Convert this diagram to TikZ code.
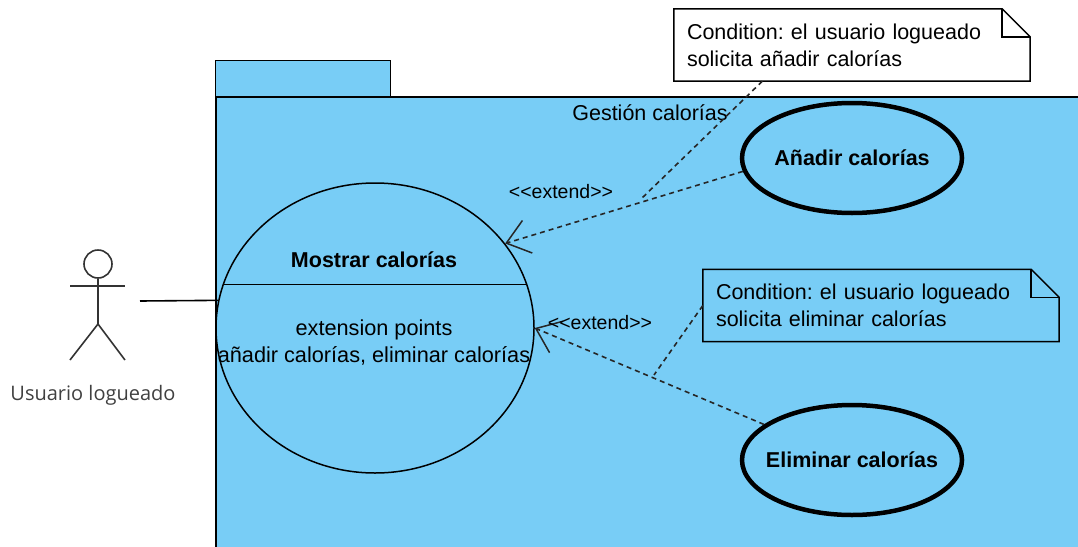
\documentclass[tikz,border=0pt]{standalone}
\usepackage{fontspec}
\setmainfont{Liberation Sans}
\newfontfamily\actorfont{Open Sans}
\usetikzlibrary{arrows.meta,calc,shapes.geometric}
\definecolor{pkgblue}{HTML}{78CDF6}
\tikzset{
  pkgbox/.style={draw=black,fill=pkgblue,line width=1.5pt,minimum width=#1,inner sep=0pt},
  caseoval/.style={draw=black,ellipse,inner xsep=-40pt,inner ysep=0pt,minimum width=220pt,minimum height=110pt,line width=4.5pt,font=\fontsize{21.5}{23}\selectfont\bfseries},
  notebox/.style={inner sep=0pt,minimum width=356pt,minimum height=72pt,text width=330pt,align=left,font=\fontsize{21.5}{27}\selectfont},
  extendline/.style={draw=black!85,dashed,dash pattern=on 5pt off 4pt,line width=1.6pt},
  openarrow/.style={-{Straight Barb[length=22pt,width=34pt,line width=1.5pt]}},
  lbl/.style={inner sep=0pt,font=\fontsize{#1}{#1}\selectfont},
}
\newcommand{\notefold}[1]{
  \draw[line width=1.5pt] (#1.south west) -- (#1.north west) -- ($(#1.north east)+(-28,0)$) -- ($(#1.north east)+(0,28)$) -- (#1.south east) -- cycle;
  \draw[line width=1.5pt] ($(#1.north east)+(-28,0)$) -- ($(#1.north east)+(-28,28)$) -- ($(#1.north east)+(0,28)$);
}
\begin{document}
\frenchspacing
\begin{tikzpicture}[x=1pt,y=-1pt]
\clip (0,0) rectangle (1078,546);
\node[pkgbox=175pt,minimum height=37pt] (P_tab) at (303,79) {};
\node[pkgbox=880pt,minimum height=480pt] (P_pkg) at (656,337) {};
\node[lbl=21.5] (P_title) at (650,113) {Gestión calorías};
\node[draw=black,ellipse,inner sep=0pt,minimum width=318pt,minimum height=290pt,line width=1.5pt] (P_mostrar) at (375,328) {};
\draw[line width=1.5pt] (P_mostrar.164) -- (P_mostrar.16);
\node[inner sep=0pt,font=\fontsize{21.5}{21.5}\selectfont\bfseries] (P_mostrar_name) at (374,260) {Mostrar calorías};
\node[inner sep=0pt,align=center,font=\fontsize{21.7}{27}\selectfont] (P_points) at (374,343) {extension points\\añadir calorías, eliminar calorías};
\node[caseoval] (P_anadir) at (852,158) {Añadir calorías};
\node[caseoval] (P_eliminar) at (852,460) {Eliminar calorías};
\node[notebox,fill=white] (P_note_0) at (852,45) {Condition: el usuario logueado\\solicita añadir calorías};
\notefold{P_note_0}
\node[notebox] (P_note_1) at (881,305.5) {Condition: el usuario logueado\\solicita eliminar calorías};
\notefold{P_note_1}
\draw[extendline,openarrow] (P_anadir.187) -- (P_mostrar.33.6);
\node[lbl=19.5] (P_ext_0) at (561,192) {<{}<extend>{}>};
\coordinate (P_join_0) at (640,200);
\draw[extendline] (P_note_0.202) -- (P_join_0);
\draw[extendline,openarrow] (P_eliminar.158) -- (P_mostrar.east);
\node[lbl=19.5] (P_ext_1) at (600,323) {<{}<extend>{}>};
\coordinate (P_join_1) at (654,375);
\draw[extendline] (P_note_1.west) -- (P_join_1);
% actor
\node[circle,draw=black!80,line width=1.6pt,minimum size=28pt,inner sep=0pt] (P_head) at (98,264) {};
\coordinate (P_hip) at (98,324);
\draw[black!80,line width=1.6pt] (P_head) -- (P_hip) -- (70,360);
\draw[black!80,line width=1.6pt] (P_hip) -- (125,360);
\draw[black!80,line width=1.6pt] (70,286) -- (125,286);
\node[inner sep=0pt,font=\fontsize{20}{20}\selectfont\actorfont,text=black!75] (P_actor) at (93,395.5) {Usuario logueado};
\coordinate (P_assoc) at (140,301);
\draw[line width=1.6pt] (P_assoc) -- (P_mostrar.170);
\end{tikzpicture}
\end{document}
